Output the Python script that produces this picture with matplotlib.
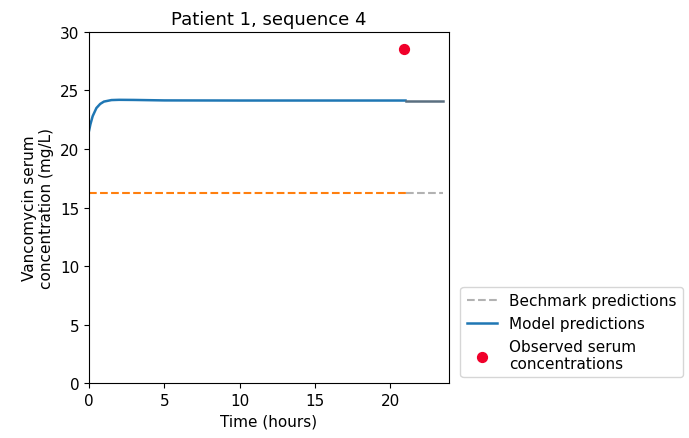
import matplotlib
matplotlib.use('Agg')
import matplotlib.pyplot as plt

# 数据
t_model = [0, 0.1, 0.25, 0.5, 0.75, 1.0, 1.5, 2.0, 3.0, 5.0, 10.0, 15.0, 21.0, 23.5]
c_model = [21.5, 22.1, 22.8, 23.5, 23.85, 24.05, 24.18, 24.2, 24.19, 24.15, 24.14, 24.14, 24.14, 24.14]
t_split = 21.0
t_end = 23.5
bench_value = 16.25
obs_time = [20.9]
obs_conc = [28.5]

fig = plt.figure(figsize=(6.89, 4.39), dpi=100)
ax = fig.add_axes([0.129, 0.125, 0.523, 0.80])

# 基准预测：观测前橙色虚线，之后灰色
ax.plot([0, t_split], [bench_value, bench_value], '--', color='#ff7f0e')
ax.plot([t_split, t_end], [bench_value, bench_value], '--', color='grey', alpha=0.6,
        label='Bechmark predictions')

# 模型预测
before = [(t, c) for t, c in zip(t_model, c_model) if t <= t_split]
after = [(t, c) for t, c in zip(t_model, c_model) if t >= t_split]
ax.plot([p[0] for p in before], [p[1] for p in before], '-', color='#1f77b4', lw=1.8,
        label='Model predictions')
ax.plot([p[0] for p in after], [p[1] for p in after], '-', color='#5a6f80', lw=1.8)

ax.scatter(obs_time, obs_conc, color='#f0002a', s=50, zorder=5,
           label='Observed serum\nconcentrations')

ax.set_xlim(0, 23.9)
ax.set_ylim(0, 30)
ax.set_xticks([0, 5, 10, 15, 20])
ax.tick_params(labelsize=11)
ax.set_xlabel('Time (hours)', fontsize=11)
ax.set_ylabel('Vancomycin serum\nconcentration (mg/L)', fontsize=11)
ax.set_title('Patient 1, sequence 4', fontsize=13)
ax.legend(loc='lower left', bbox_to_anchor=(1.01, -0.005), fontsize=11)

fig.savefig('out.png', dpi=100)
